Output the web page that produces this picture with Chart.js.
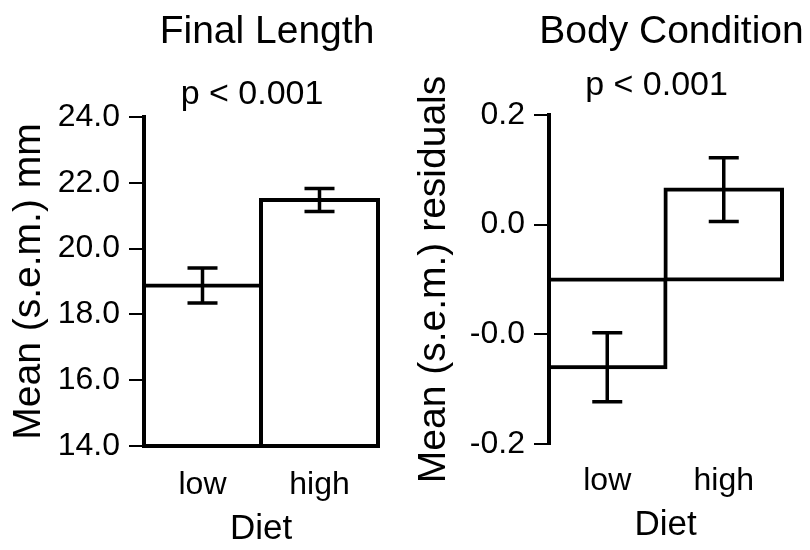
<!DOCTYPE html>
<html lang="en">
<head>
    <meta charset="UTF-8">
    <title>Final Length and Body Condition by Diet</title>
    <script src="https://cdn.jsdelivr.net/npm/chart.js"></script>
    <style>
        body { margin: 0; background: #fff; }
        .panel { position: absolute; top: 0; width: 405px; height: 550px; }
    </style>
</head>
<body>
    <!-- left: final length, right: body condition -->
    <div class="panel" style="left:0"><canvas id="lengthChart" width="405" height="550"></canvas></div>
    <div class="panel" style="left:405px"><canvas id="condChart" width="405" height="550"></canvas></div>

    <script>
        // data
        var diets = ['low', 'high'];

        var lengthMeans = [18.88, 21.48];
        var lengthErrs = [0.53, 0.35];
        var lengthBase = 14.0;
        var lengthTicks = [14, 16, 18, 20, 22, 24];

        var condMeans = [-0.26, 0.064];
        var condErrs = [0.063, 0.058];
        var condBase = -0.1;
        var condTickValues = [-0.4, -0.2, 0.0, 0.2];
        var condTickLabels = ['-0.2', '-0.0', '0.0', '0.2'];

        Chart.defaults.font.family = '"Liberation Sans", Arial, sans-serif';
        Chart.defaults.color = '#000';

        // s.e.m. whiskers
        function makeErrorBars(means, errs) {
            return {
                id: 'errorBars',
                afterDatasetsDraw: function (chart) {
                    var meta = chart.getDatasetMeta(0);
                    var y = chart.scales.y;
                    var ctx = chart.ctx;
                    ctx.save();
                    ctx.strokeStyle = '#000';
                    ctx.lineWidth = 3.5;
                    means.forEach(function (m, i) {
                        var x = meta.data[i].x;
                        var top = y.getPixelForValue(m + errs[i]);
                        var bot = y.getPixelForValue(m - errs[i]);
                        ctx.beginPath();
                        ctx.moveTo(x, top); ctx.lineTo(x, bot);
                        ctx.moveTo(x - 15, top); ctx.lineTo(x + 15, top);
                        ctx.moveTo(x - 15, bot); ctx.lineTo(x + 15, bot);
                        ctx.stroke();
                    });
                    ctx.restore();
                }
            };
        }

        // panel title and p-value
        function makeHeaders(title, sub, h) {
            return {
                id: 'headers',
                afterDraw: function (chart) {
                    var ctx = chart.ctx;
                    var a = chart.chartArea;
                    var cx = (a.left + a.right) / 2;
                    ctx.save();
                    ctx.fillStyle = '#000';
                    ctx.textAlign = 'center';
                    ctx.textBaseline = 'alphabetic';
                    ctx.font = '39px "Liberation Sans", Arial, sans-serif';
                    ctx.fillText(title, cx + h.titleDx, h.titleY);
                    ctx.font = '34px "Liberation Sans", Arial, sans-serif';
                    ctx.fillText(sub, cx + h.subDx, h.subY);
                    ctx.restore();
                }
            };
        }

        function makeChart(id, opts) {
            var bars = opts.means.map(function (m) { return [opts.base, m]; });
            return new Chart(document.getElementById(id), {
                type: 'bar',
                data: {
                    labels: diets,
                    datasets: [{
                        data: bars,
                        backgroundColor: '#fff',
                        borderColor: '#000',
                        borderWidth: 4,
                        inflateAmount: 2,   // centre the outline on the bar edges
                        borderSkipped: false,
                        clip: false,
                        categoryPercentage: 1.0,
                        barPercentage: 1.0
                    }]
                },
                options: {
                    responsive: false,
                    animation: false,
                    layout: { padding: opts.padding },
                    plugins: { legend: { display: false }, tooltip: { enabled: false } },
                    scales: {
                        x: {
                            grid: { display: false, drawTicks: false },
                            border: { display: false },
                            ticks: { font: { size: 32 }, padding: opts.xTickPad },
                            title: { display: true, text: 'Diet', font: { size: 35 }, padding: { top: 0, bottom: opts.xTitlePad } },
                            afterFit: function (s) { s.height = opts.xHeight; }
                        },
                        y: {
                            min: opts.min,
                            max: opts.max,
                            afterBuildTicks: function (s) {
                                s.ticks = opts.tickValues.map(function (v) { return { value: v }; });
                            },
                            grid: { drawOnChartArea: false, drawTicks: true, tickLength: 15, color: '#000', lineWidth: 2 },
                            border: { display: true, color: '#000', width: 4 },
                            ticks: {
                                font: { size: 32 },
                                padding: 9,
                                callback: opts.tickFormat
                            },
                            title: { display: true, text: opts.yTitle, font: { size: 39 }, padding: { top: 6, bottom: 0 } },
                            afterFit: function (s) { s.width = 144; }
                        }
                    }
                },
                plugins: [makeErrorBars(opts.means, opts.errs), makeHeaders(opts.title, 'p < 0.001', opts.headers)]
            });
        }

        makeChart('lengthChart', {
            means: lengthMeans,
            errs: lengthErrs,
            base: lengthBase,
            min: 14, max: 24,
            tickValues: lengthTicks,
            tickFormat: function (v) { return Number(v).toFixed(1); },
            yTitle: 'Mean (s.e.m.) mm',
            title: 'Final Length',
            padding: { top: 117, right: 27, bottom: 0, left: 0 },
            xHeight: 104,
            xTickPad: 20,
            xTitlePad: 0,
            headers: { titleDx: 6, titleY: 43, subDx: -9, subY: 104 }
        });

        makeChart('condChart', {
            means: condMeans,
            errs: condErrs,
            base: condBase,
            min: -0.4, max: 0.2,
            tickValues: condTickValues,
            tickFormat: function (v, i) { return condTickLabels[i]; },
            yTitle: 'Mean (s.e.m.) residuals',
            title: 'Body Condition',
            padding: { top: 115, right: 28, bottom: 0, left: 0 },
            xHeight: 106,
            xTickPad: 18,
            xTitlePad: 4,
            headers: { titleDx: 6, titleY: 43, subDx: -9, subY: 95 }
        });
    </script>
</body>
</html>
